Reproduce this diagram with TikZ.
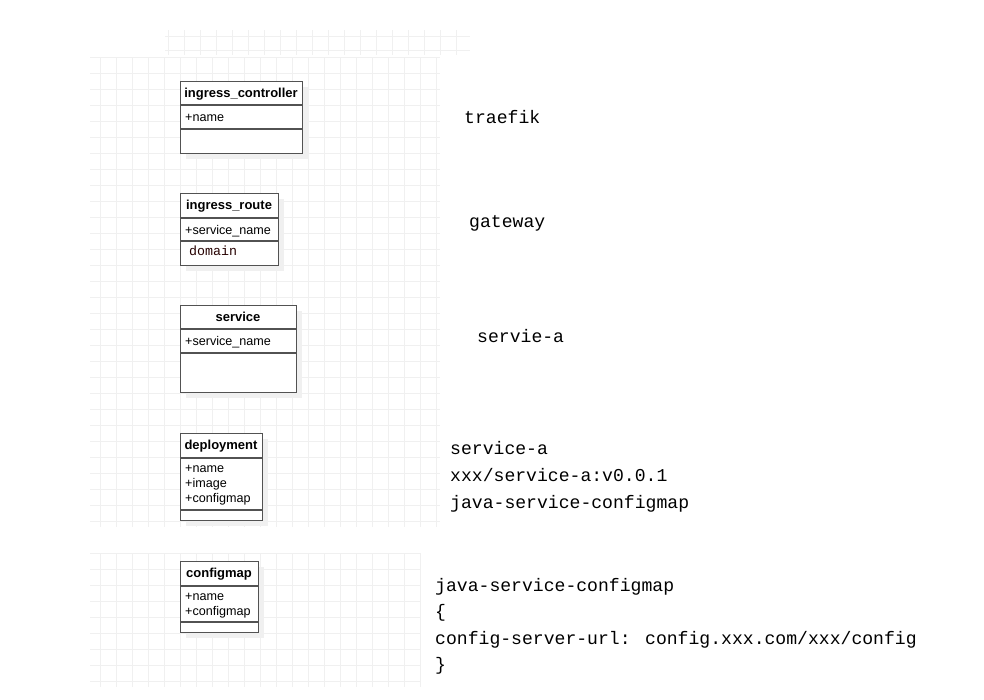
\documentclass[tikz,border=0pt]{standalone}
\usepackage{fontspec}
\setmainfont{Liberation Sans}
\newfontfamily\monof{Liberation Mono}
\usetikzlibrary{calc}
\begin{document}
\begin{tikzpicture}[x=1pt,y=-1pt,
  gridc/.style={draw=black!6, line width=0.9pt},
  umlbox/.style={draw=black!68, line width=1.4pt, fill=white, anchor=north west, inner sep=0pt},
  shadowbox/.style={fill=black!6, draw=none, anchor=north west, inner sep=0pt},
  divider/.style={draw=black!68, line width=1.4pt},
  head/.style={font=\fontsize{13}{15}\selectfont\bfseries, anchor=base, inner sep=0pt},
  item/.style={font=\fontsize{12.6}{15}\selectfont, anchor=base west, inner sep=0pt},
  smallmono/.style={font=\monof\fontsize{13.3}{15}\selectfont, anchor=base west, inner sep=0pt, text=black!85!red},
  mono/.style={font=\monof\fontsize{18.1}{22}\selectfont, anchor=base west, inner sep=0pt}]
\useasboundingbox (0,0) rectangle (984,699);
% faint background grids
\foreach \x in {100,116,...,436} \draw[gridc] (\x,57) -- (\x,527);
\foreach \y in {57.3,73.3,...,527} \draw[gridc] (90,\y) -- (440,\y);
\foreach \x in {100,116,...,420} \draw[gridc] (\x,553) -- (\x,687);
\foreach \y in {553.3,569.3,...,687} \draw[gridc] (90,\y) -- (420,\y);
\foreach \x in {168.3,184.3,...,470} \draw[gridc] (\x,30) -- (\x,55);
\draw[gridc] (165,36) -- (470,36);
\draw[gridc] (165,50) -- (470,50);

% ingress_controller
\node[shadowbox, minimum width=122pt, minimum height=72pt] (icS) at (186,87) {};
\node[umlbox, minimum width=122pt, minimum height=72pt] (ic) at (180,81) {};
\draw[divider] ([yshift=-24pt]ic.north west) -- ([yshift=-24pt]ic.north east);
\draw[divider] ([yshift=-48pt]ic.north west) -- ([yshift=-48pt]ic.north east);
\node[head] (icH) at (241,97.7) {ingress\_controller};
\node[item] (icA) at (185,121.5) {+name};

% ingress_route
\node[shadowbox, minimum width=98pt, minimum height=72pt] (irS) at (186,199) {};
\node[umlbox, minimum width=98pt, minimum height=72pt] (ir) at (180,193) {};
\draw[divider] ([yshift=-25pt]ir.north west) -- ([yshift=-25pt]ir.north east);
\draw[divider] ([yshift=-48pt]ir.north west) -- ([yshift=-48pt]ir.north east);
\node[head] (irH) at (229,209.7) {ingress\_route};
\node[item] (irA) at (185,234.5) {+service\_name};
\node[smallmono] (irB) at (189,255.8) {domain};

% service
\node[shadowbox, minimum width=116pt, minimum height=87pt] (svS) at (186,311) {};
\node[umlbox, minimum width=116pt, minimum height=87pt] (sv) at (180,305) {};
\draw[divider] ([yshift=-24pt]sv.north west) -- ([yshift=-24pt]sv.north east);
\draw[divider] ([yshift=-48pt]sv.north west) -- ([yshift=-48pt]sv.north east);
\node[head] (svH) at (238,321.7) {service};
\node[item] (svA) at (185,345.5) {+service\_name};

% deployment
\node[shadowbox, minimum width=82pt, minimum height=87pt] (dpS) at (186,439) {};
\node[umlbox, minimum width=82pt, minimum height=87pt] (dp) at (180,433) {};
\draw[divider] ([yshift=-25pt]dp.north west) -- ([yshift=-25pt]dp.north east);
\draw[divider] ([yshift=-77pt]dp.north west) -- ([yshift=-77pt]dp.north east);
\node[head] (dpH) at (221,449.7) {deployment};
\node[item] (dpA) at (185,472.5) {+name};
\node[item] (dpB) at (185,487.5) {+image};
\node[item] (dpC) at (185,502.5) {+configmap};

% configmap
\node[shadowbox, minimum width=78pt, minimum height=71pt] (cmS) at (186,567) {};
\node[umlbox, minimum width=78pt, minimum height=71pt] (cm) at (180,561) {};
\draw[divider] ([yshift=-25pt]cm.north west) -- ([yshift=-25pt]cm.north east);
\draw[divider] ([yshift=-61pt]cm.north west) -- ([yshift=-61pt]cm.north east);
\node[head] (cmH) at (219,577.7) {configmap};
\node[item] (cmA) at (185,600.5) {+name};
\node[item] (cmB) at (185,615.5) {+configmap};

% right-hand annotations
\node[mono] (t1) at (464,123.5) {traefik};
\node[mono] (t2) at (469,227) {gateway};
\node[mono] (t3) at (477,342.5) {servie-a};
\node[mono] (t4) at (450,454.5) {service-a};
\node[mono] (t5) at (450,481.5) {xxx/service-a:v0.0.1};
\node[mono] (t6) at (450,508.5) {java-service-configmap};
\node[mono] (t7) at (435,591.5) {java-service-configmap};
\node[mono] (t8) at (435,617.5) {\{};
\node[mono] (t9) at (435,644.5) {config-server-url: config.xxx.com/xxx/config};
\node[mono] (t10) at (435,670.5) {\}};
\end{tikzpicture}
\end{document}
